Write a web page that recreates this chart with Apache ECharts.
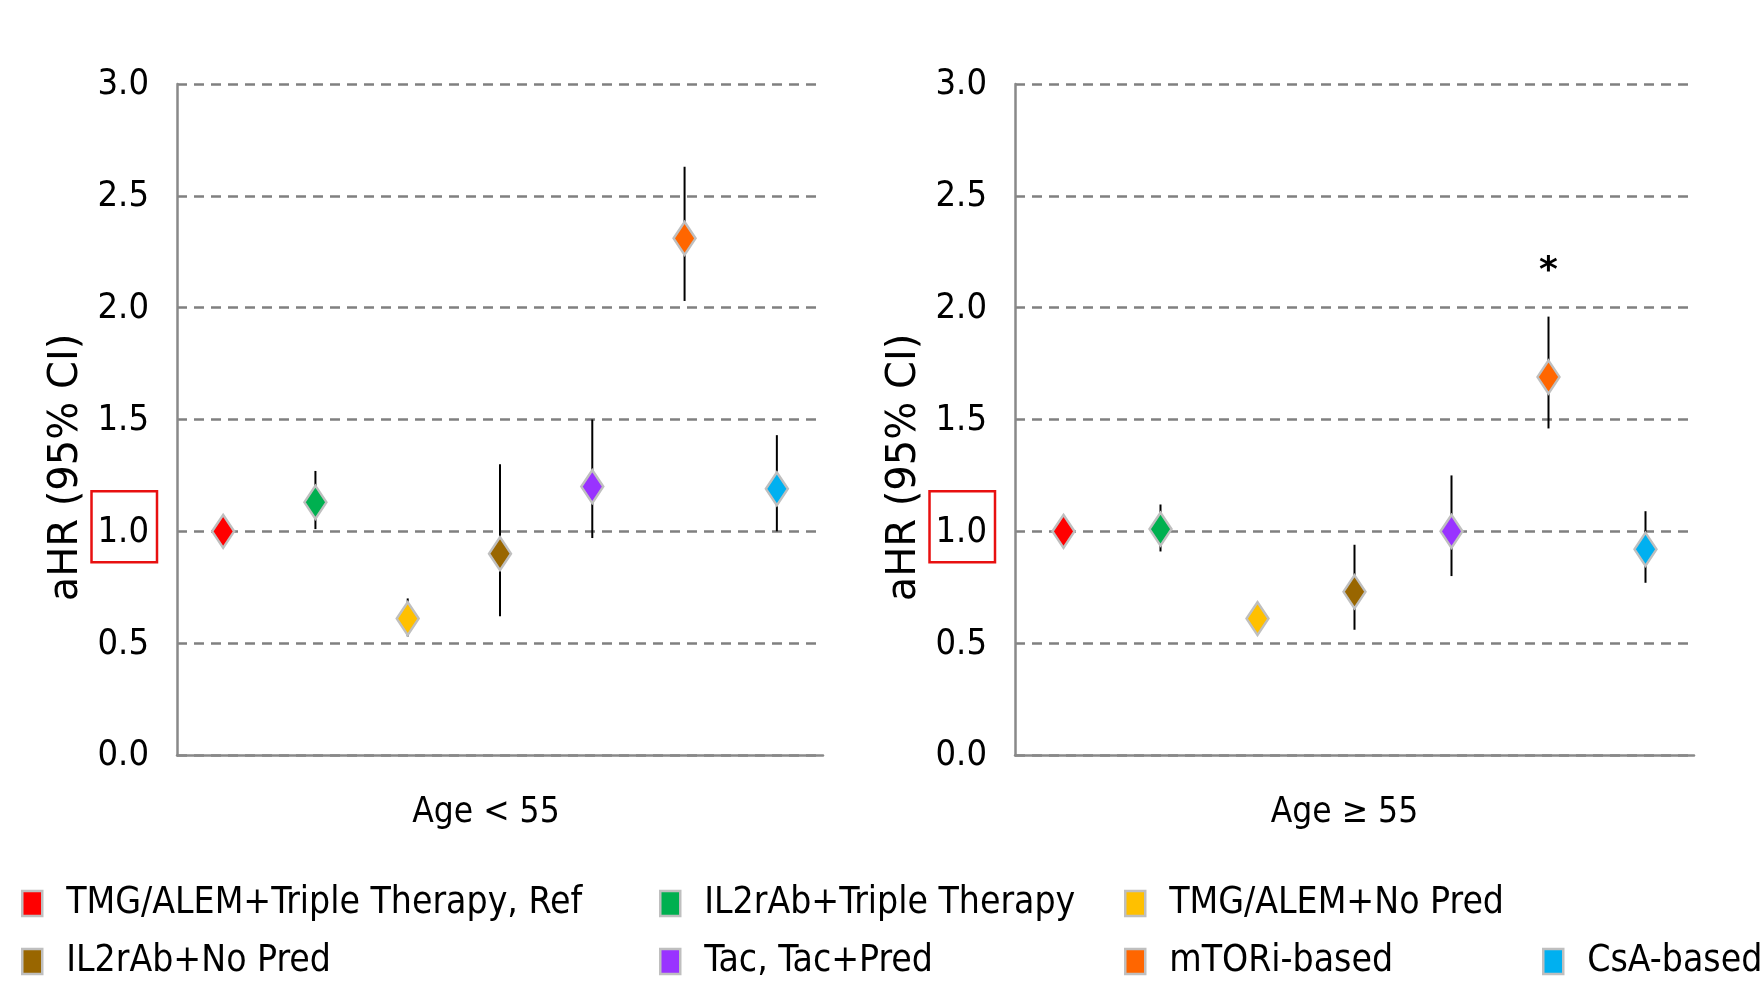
<!DOCTYPE html>
<html>
<head>
<meta charset="utf-8">
<script src="https://cdn.jsdelivr.net/npm/echarts@6/dist/echarts.min.js"></script>
<style>
html,body{margin:0;padding:0;background:#fff;}
#c{width:1764px;height:1002px;}
</style>
</head>
<body>
<div id="c"></div>
<script>
// ---- data ----
var categories = ['TMG/ALEM+Triple Therapy, Ref','IL2rAb+Triple Therapy','TMG/ALEM+No Pred','IL2rAb+No Pred','Tac, Tac+Pred','mTORi-based','CsA-based'];
var colors = ['#FF0000','#00B050','#FFC000','#996600','#9933FF','#FF6600','#00B0F0'];
var panelTitles = ['Age < 55','Age \u2265 55'];
var yTicks = [0, 0.5, 1.0, 1.5, 2.0, 2.5, 3.0];
// Age < 55
var youngAHR  = [1.00, 1.13, 0.61, 0.90, 1.20, 2.31, 1.19];
var youngLow  = [null, 1.01, 0.53, 0.62, 0.97, 2.03, 1.00];
var youngHigh = [null, 1.27, 0.70, 1.30, 1.50, 2.63, 1.43];
// Age >= 55
var oldAHR  = [1.00, 1.01, 0.61, 0.73, 1.00, 1.69, 0.92];
var oldLow  = [null, 0.91, null, 0.56, 0.80, 1.46, 0.77];
var oldHigh = [null, 1.12, null, 0.94, 1.25, 1.96, 1.09];
// significance marker (Age >= 55, mTORi-based)
var starCategory = 'mTORi-based';
var starValue = 2.16;

var narrow = "'Liberation Sans Narrow','DejaVu Sans Condensed',sans-serif";

function yAxis(gi){
  return {
    type:'value', gridIndex:gi, min:0, max:3, interval:0.5,
    name:'aHR (95% CI)', nameLocation:'middle', nameGap:68, nameRotate:90,
    nameTextStyle:{fontFamily:"'DejaVu Sans',sans-serif", fontSize:40, color:'#000', padding:[0,96,0,0]},
    axisLine:{show:true, lineStyle:{color:'#898989', width:2.5}},
    axisTick:{show:false},
    splitLine:{show:true, lineStyle:{color:'#808080', width:2.5, type:[10,7]}},
    axisLabel:{
      margin:20, color:'#000', padding:[0,0,9,0],
      formatter:function(v){ var s=v.toFixed(1); return v===1 ? '{box|'+s+'}' : '{n|'+s+'}'; },
      rich:{
        n:{fontFamily:narrow, fontSize:36, color:'#000', padding:[23,8,12,6]},
        box:{fontFamily:narrow, fontSize:36, color:'#000', padding:[23,8,12,6], borderColor:'#E81010', borderWidth:2.5}
      }
    }
  };
}
function xAxis(gi){
  return {
    type:'category', gridIndex:gi, data:categories, boundaryGap:true,
    name:panelTitles[gi], nameLocation:'middle', nameGap:40,
    nameTextStyle:{fontFamily:narrow, fontSize:35, color:'#000', verticalAlign:'top', padding:[0, gi===0 ? 28 : 20, 0, 0]},
    axisLine:{show:true, lineStyle:{color:'#898989', width:2.5}},
    axisTick:{show:false}, axisLabel:{show:false}, splitLine:{show:false}
  };
}

var series = [];
function addPanel(gi, ahr, low, high, withStar){
  // error bars
  var bars = [];
  for (var i=0;i<categories.length;i++){
    if (low[i]!=null && high[i]!=null) bars.push([i, low[i], high[i]]);
  }
  series.push({
    type:'custom', xAxisIndex:gi, yAxisIndex:gi, z:1, silent:true,
    data:bars,
    renderItem:function(params, api){
      var p1 = api.coord([api.value(0), api.value(1)]);
      var p2 = api.coord([api.value(0), api.value(2)]);
      return {type:'line', shape:{x1:p1[0],y1:p1[1],x2:p2[0],y2:p2[1]}, style:{stroke:'#000', lineWidth:2}};
    }
  });
  for (var k=0;k<categories.length;k++){
    var s = {
      type:'scatter', name:categories[k], xAxisIndex:gi, yAxisIndex:gi, z:3,
      symbol:'diamond', symbolSize:[22,33],
      itemStyle:{color:colors[k], borderColor:'#BFBFBF', borderWidth:2.5, opacity:1},
      data:[[categories[k], ahr[k]]]
    };
    if (withStar && categories[k]===starCategory){
      s.markPoint = {
        symbol:'circle', symbolSize:1, itemStyle:{color:'rgba(0,0,0,0)', borderWidth:0},
        label:{show:true, formatter:'*', fontFamily:"'DejaVu Sans',sans-serif", fontWeight:'bold', fontSize:36, color:'#000', position:'inside'},
        data:[{coord:[starCategory, starValue]}]
      };
    }
    series.push(s);
  }
}
addPanel(0, youngAHR, youngLow, youngHigh, false);
addPanel(1, oldAHR, oldLow, oldHigh, true);

// legend layout: 4 columns x 2 rows
var legCols = [16, 654, 1119, 1537];
var legRows = [880, 938];
var legendPos = [[0,0],[1,0],[2,0],[0,1],[1,1],[2,1],[3,1]];
var legends = categories.map(function(name, i){
  return {
    data:[{name:name, icon:'rect', itemStyle:{color:colors[i], borderColor:'#BFBFBF', borderWidth:2.5}}],
    left:legCols[legendPos[i][0]], top:legRows[legendPos[i][1]],
    itemWidth:20, itemHeight:25, selectedMode:false,
    textStyle:{fontFamily:narrow, fontSize:37, color:'#000', padding:[0,0,0,19]}
  };
});

var chart = echarts.init(document.getElementById('c'), null, {renderer:'canvas'});
chart.setOption({
  animation:false,
  backgroundColor:'#fff',
  grid:[
    {left:177, right:941, top:84, bottom:247},
    {left:1015, right:70, top:84, bottom:247}
  ],
  xAxis:[xAxis(0), xAxis(1)],
  yAxis:[yAxis(0), yAxis(1)],
  legend:legends,
  series:series
});
</script>
</body>
</html>
